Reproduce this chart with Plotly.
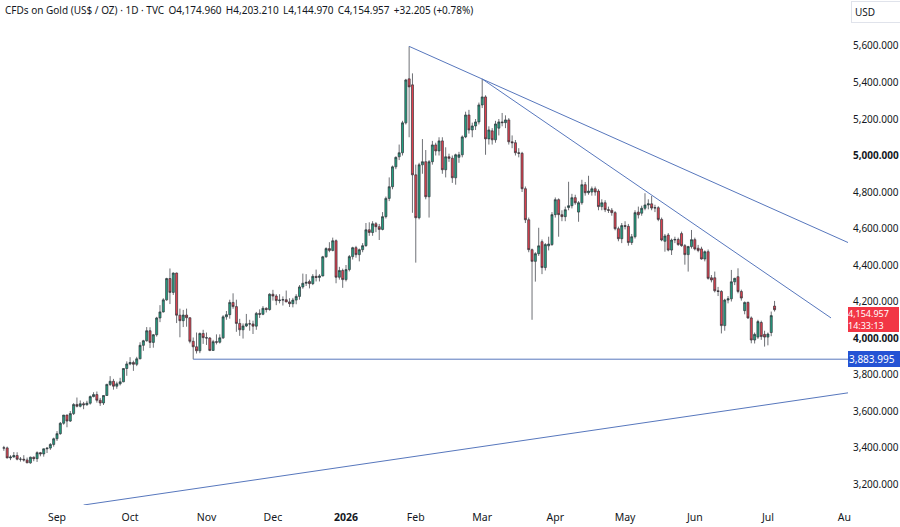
import numpy as np
import pandas as pd
import plotly.graph_objects as go

# ---------------- data ----------------
HOLIDAYS = ["2025-12-25", "2026-01-01", "2026-04-03"]
FIRST_DAY = "2025-08-08"
LAST_DAY = "2026-07-03"

# (open, high, low, close) per trading day, month by month
AUG_2025 = [
    (3397, 3409, 3382, 3398), (3398, 3405, 3341, 3343), (3343, 3358, 3331, 3348),
    (3348, 3375, 3345, 3356), (3356, 3374, 3330, 3336), (3336, 3348, 3323, 3336),
    (3336, 3358, 3323, 3332), (3332, 3345, 3315, 3316), (3316, 3350, 3311, 3347),
    (3347, 3351, 3325, 3339), (3339, 3379, 3321, 3372), (3372, 3376, 3352, 3365),
    (3365, 3394, 3350, 3393), (3393, 3398, 3370, 3397), (3397, 3424, 3387, 3417),
    (3417, 3454, 3405, 3448),
]
SEP_2025 = [
    (3448, 3490, 3436, 3476), (3476, 3540, 3470, 3533), (3533, 3578, 3525, 3578),
    (3578, 3580, 3511, 3545), (3545, 3600, 3540, 3586), (3586, 3643, 3578, 3636),
    (3636, 3674, 3620, 3626), (3626, 3658, 3620, 3640), (3640, 3650, 3610, 3634),
    (3634, 3656, 3630, 3643), (3643, 3685, 3635, 3679), (3679, 3703, 3675, 3690),
    (3690, 3707, 3646, 3659), (3659, 3672, 3628, 3644), (3644, 3687, 3633, 3685),
    (3685, 3749, 3684, 3746), (3746, 3791, 3737, 3763), (3763, 3776, 3717, 3736),
    (3736, 3761, 3722, 3749), (3749, 3782, 3740, 3760), (3760, 3835, 3758, 3833),
    (3833, 3872, 3793, 3858),
]
OCT_2025 = [
    (3858, 3895, 3851, 3866), (3866, 3876, 3820, 3856), (3856, 3897, 3846, 3886),
    (3886, 3977, 3884, 3960), (3960, 3990, 3930, 3985), (3985, 4060, 3980, 4040),
    (4040, 4059, 3945, 3976), (3976, 4022, 3947, 4018), (4018, 4116, 4008, 4110),
    (4110, 4180, 4087, 4143), (4143, 4218, 4140, 4209), (4209, 4330, 4204, 4326),
    (4326, 4381, 4186, 4250), (4250, 4359, 4236, 4356), (4356, 4358, 4082, 4125),
    (4125, 4161, 4004, 4095), (4095, 4154, 4060, 4126), (4126, 4161, 4062, 4111),
    (4111, 4113, 3971, 3982), (3982, 4003, 3883.995, 3952), (3952, 4030, 3915, 3930),
    (3930, 4030, 3917, 4025), (4025, 4045, 3968, 4002),
]
NOV_2025 = [
    (4002, 4030, 3962, 4000), (4000, 4005, 3928, 3932), (3932, 3990, 3930, 3980),
    (3980, 4020, 3965, 3977), (3977, 4020, 3970, 4001), (4001, 4125, 3995, 4116),
    (4116, 4148, 4100, 4128), (4128, 4210, 4106, 4195), (4195, 4245, 4160, 4172),
    (4172, 4210, 4034, 4080), (4080, 4105, 4012, 4045), (4045, 4080, 3997, 4066),
    (4066, 4132, 4060, 4078), (4078, 4100, 4040, 4077), (4077, 4095, 4022, 4065),
    (4065, 4143, 4045, 4135), (4135, 4157, 4110, 4130), (4130, 4175, 4125, 4163),
    (4163, 4168, 4140, 4156), (4156, 4245, 4150, 4240),
]
DEC_2025 = [
    (4240, 4264, 4205, 4230), (4230, 4240, 4180, 4205), (4205, 4240, 4190, 4208),
    (4208, 4228, 4178, 4210), (4210, 4260, 4196, 4198), (4198, 4218, 4170, 4188),
    (4188, 4220, 4168, 4208), (4208, 4240, 4185, 4228), (4228, 4290, 4210, 4280),
    (4280, 4353, 4270, 4300), (4300, 4350, 4285, 4305), (4310, 4320, 4272, 4298),
    (4298, 4350, 4290, 4338), (4338, 4375, 4310, 4332), (4332, 4350, 4310, 4340),
    (4340, 4450, 4338, 4445), (4445, 4497, 4440, 4490), (4490, 4525, 4470, 4480),
    (4480, 4550, 4475, 4533), (4533, 4540, 4300, 4333), (4333, 4390, 4320, 4370),
    (4370, 4380, 4275, 4320),
]
JAN_2026 = [
    (4320, 4400, 4310, 4375), (4375, 4455, 4365, 4446), (4446, 4500, 4430, 4495),
    (4495, 4505, 4440, 4457), (4457, 4490, 4420, 4484), (4484, 4520, 4470, 4506),
    (4506, 4630, 4500, 4593), (4593, 4634, 4560, 4578), (4578, 4640, 4560, 4626),
    (4626, 4635, 4580, 4610), (4610, 4625, 4537, 4595), (4595, 4690, 4590, 4665),
    (4665, 4775, 4655, 4765), (4765, 4880, 4750, 4829), (4829, 4945, 4815, 4938),
    (4938, 4995, 4925, 4990), (4993, 5060, 4975, 5015), (5015, 5190, 5000, 5179),
    (5179, 5420, 5170, 5414), (5420, 5598, 5100, 5376), (5387, 5450, 4686, 4894),
]
FEB_2026 = [
    (4894, 4950, 4413, 4659), (4659, 4960, 4650, 4949), (4949, 5090, 4900, 4966),
    (4966, 5030, 4760, 4774), (4774, 4975, 4660, 4966), (4966, 5080, 4950, 5058),
    (5058, 5070, 5000, 5025), (5025, 5100, 5000, 5080), (5080, 5100, 4900, 4922),
    (4922, 5045, 4880, 4993), (4993, 5010, 4965, 4985), (4985, 5000, 4850, 4878),
    (4878, 5010, 4840, 5004), (4990, 5020, 4960, 5004), (5004, 5110, 4990, 5102),
    (5102, 5240, 5095, 5222), (5222, 5250, 5120, 5140), (5140, 5180, 5100, 5162),
    (5162, 5200, 5140, 5184), (5184, 5290, 5170, 5277),
]
MAR_2026 = [
    (5277, 5419, 5260, 5321), (5321, 5330, 5004, 5091), (5091, 5160, 5060, 5140),
    (5135, 5150, 5060, 5086), (5086, 5190, 5070, 5173), (5150, 5200, 5110, 5184),
    (5184, 5233, 5160, 5180), (5180, 5220, 5150, 5195), (5195, 5205, 5060, 5075),
    (5075, 5110, 5040, 5070), (5070, 5085, 5000, 5015), (5015, 5040, 4990, 5012),
    (5012, 5020, 4800, 4818), (4818, 4830, 4630, 4648), (4648, 4660, 4470, 4484),
    (4484, 4490, 4100, 4420), (4420, 4470, 4309, 4462), (4462, 4604, 4450, 4505),
    (4528, 4540, 4350, 4386), (4386, 4520, 4370, 4512), (4505, 4555, 4480, 4515),
    (4512, 4690, 4505, 4676),
]
APR_2026 = [
    (4676, 4770, 4660, 4758), (4758, 4765, 4555, 4676), (4676, 4700, 4640, 4665),
    (4665, 4720, 4640, 4703), (4715, 4856, 4700, 4725), (4725, 4790, 4710, 4769),
    (4769, 4785, 4730, 4741), (4690, 4750, 4637, 4741), (4741, 4867, 4730, 4840),
    (4840, 4855, 4780, 4796), (4796, 4889, 4785, 4805), (4800, 4830, 4780, 4818),
    (4818, 4830, 4780, 4800), (4805, 4815, 4700, 4720), (4720, 4760, 4700, 4741),
    (4741, 4755, 4690, 4703), (4703, 4720, 4685, 4700), (4700, 4712, 4670, 4687),
    (4687, 4695, 4590, 4599), (4599, 4610, 4530, 4544), (4544, 4630, 4520, 4616),
]
MAY_2026 = [
    (4616, 4640, 4595, 4612), (4612, 4625, 4506, 4523), (4523, 4570, 4510, 4555),
    (4555, 4700, 4545, 4687), (4690, 4720, 4655, 4675), (4684, 4725, 4670, 4711),
    (4711, 4793, 4700, 4729), (4729, 4760, 4705, 4735), (4735, 4778, 4700, 4712),
    (4712, 4730, 4690, 4714), (4714, 4722, 4640, 4650), (4650, 4660, 4530, 4537),
    (4530, 4570, 4473, 4559), (4564, 4575, 4475, 4482), (4482, 4545, 4455, 4537),
    (4537, 4555, 4520, 4540), (4540, 4550, 4505, 4512), (4572, 4583, 4500, 4506),
    (4506, 4515, 4402, 4457), (4457, 4505, 4364, 4501), (4501, 4592, 4490, 4539),
]
JUN_2026 = [
    (4539, 4550, 4480, 4488), (4492, 4510, 4470, 4480), (4488, 4500, 4430, 4433),
    (4433, 4480, 4420, 4473), (4473, 4485, 4320, 4327), (4330, 4345, 4305, 4318),
    (4330, 4364, 4250, 4259), (4259, 4280, 4230, 4255), (4255, 4262, 4025, 4068),
    (4068, 4215, 4040, 4208), (4208, 4230, 4190, 4215), (4215, 4373, 4200, 4308),
    (4308, 4330, 4290, 4327), (4336, 4382, 4245, 4255), (4255, 4265, 4205, 4219),
    (4150, 4200, 4130, 4195), (4195, 4200, 4105, 4110), (4110, 4118, 3971, 3989),
    (3989, 4030, 3970, 4020), (4005, 4100, 3995, 4090), (4085, 4095, 3990, 4008),
    (4020, 4040, 3953, 4005),
]
JUL_2026 = [
    (4005, 4030, 3960, 4022), (4030, 4145, 4010, 4122.752),
    (4174.960, 4203.210, 4144.970, 4154.957),
]

MONTH_TICKS = ["2025-09-01", "2025-10-01", "2025-11-03", "2025-12-01", "2026-01-02",
               "2026-02-02", "2026-03-02", "2026-04-01", "2026-05-01", "2026-06-01",
               "2026-07-01", "2026-08-03"]
MONTH_LABELS = ["Sep", "Oct", "Nov", "Dec", "<b>2026</b>", "Feb", "Mar", "Apr", "May",
                "Jun", "Jul", "Au"]
PRICE_TICKS = [3200, 3400, 3600, 3800, 4000, 4200, 4400, 4600, 4800, 5000, 5200, 5400, 5600]
BOLD_TICKS = [4000, 5000]

SUPPORT_LEVEL = 3883.995
SUPPORT_START = "2025-10-28"
LAST_PRICE = 4154.957
COUNTDOWN = "14:33:13"
GAP = " \u2009"
LEGEND = ("CFDs on Gold (US$ / OZ) · 1D · TVC" + GAP + "O4,174.960" + GAP + "H4,203.210"
          + GAP + "L4,144.970" + GAP + "C4,154.957" + GAP + "+32.205 (+0.78%)")

# drawing anchors
PEAK_DAY, MARCH_TOP_DAY = "2026-01-29", "2026-03-02"
STEEP_LINE_END = ("2026-07-28", 4110.0)
RISING_LINE = [("2025-09-11", 3085.0), ("2026-08-05", 3702.0)]
RIGHT_EDGE_DAY = "2026-08-05"

X_RANGE = ["2025-08-07 08:10", "2026-08-04 14:38"]
Y_RANGE = [3085.1, 5852.0]

# ---------------- build ----------------
rows = (AUG_2025 + SEP_2025 + OCT_2025 + NOV_2025 + DEC_2025 + JAN_2026 + FEB_2026
        + MAR_2026 + APR_2026 + MAY_2026 + JUN_2026 + JUL_2026)
days = pd.bdate_range(FIRST_DAY, LAST_DAY, freq="C", holidays=HOLIDAYS)
assert len(days) == len(rows), (len(days), len(rows))
ohlc = pd.DataFrame(rows, columns=["open", "high", "low", "close"], index=days)
xs = days + pd.Timedelta(hours=12)

def noon(d):
    return pd.Timestamp(d) + pd.Timedelta(hours=12)

def bar_index(d):
    return int(np.busday_count(FIRST_DAY, d, holidays=HOLIDAYS))

TXT = "#131722"
LINE = "#5777bd"
FONT = "Noto Sans"

fig = go.Figure()
fig.add_trace(go.Candlestick(
    x=xs, open=ohlc["open"], high=ohlc["high"], low=ohlc["low"], close=ohlc["close"],
    increasing=dict(fillcolor="#22a080", line=dict(color="#30343b", width=0.7)),
    decreasing=dict(fillcolor="#e3414f", line=dict(color="#30343b", width=0.7)),
    whiskerwidth=0, hoverinfo="skip", showlegend=False,
))

# upper trendline: through Jan peak high and March high, extended to the right edge
p1 = ohlc.loc[PEAK_DAY, "high"]
p2 = ohlc.loc[MARCH_TOP_DAY, "high"]
slope = (p2 - p1) / (bar_index(MARCH_TOP_DAY) - bar_index(PEAK_DAY))
p_end = p1 + slope * (bar_index(RIGHT_EDGE_DAY) - bar_index(PEAK_DAY))
shapes = [
    dict(type="line", xref="x", yref="y", x0=noon(PEAK_DAY), y0=p1,
         x1=noon(RIGHT_EDGE_DAY), y1=p_end, line=dict(color=LINE, width=1)),
    dict(type="line", xref="x", yref="y", x0=noon(MARCH_TOP_DAY), y0=p2,
         x1=noon(STEEP_LINE_END[0]), y1=STEEP_LINE_END[1], line=dict(color=LINE, width=1)),
    dict(type="line", xref="x", yref="y", x0=noon(RISING_LINE[0][0]), y0=RISING_LINE[0][1],
         x1=noon(RISING_LINE[1][0]), y1=RISING_LINE[1][1], line=dict(color=LINE, width=1)),
    dict(type="line", xref="x", yref="y", x0=noon(SUPPORT_START), y0=SUPPORT_LEVEL,
         x1=noon(RIGHT_EDGE_DAY), y1=SUPPORT_LEVEL, line=dict(color=LINE, width=1)),
]

ticktext = [("<b>%s</b>" if v in BOLD_TICKS else "%s") % f"{v:,.3f}" for v in PRICE_TICKS]

annotations = [
    dict(xref="paper", yref="paper", x=0.004, y=1, xanchor="left", yanchor="top",
         yshift=-1, text=LEGEND, showarrow=False, font=dict(family=FONT, size=10, color=TXT)),
    dict(xref="paper", yref="paper", x=1, y=1, xanchor="left", yanchor="top",
         xshift=3, yshift=-1, text="USD", showarrow=False, width=42, align="left",
         bordercolor="#e0e3eb", borderwidth=1, borderpad=3,
         font=dict(family=FONT, size=10, color=TXT)),
    dict(xref="paper", yref="y", x=1, y=LAST_PRICE, xanchor="left", yanchor="middle",
         yshift=-10, text=f"{LAST_PRICE:,.3f}<br>{COUNTDOWN}", showarrow=False, width=51,
         align="left", bgcolor="#f23645", borderpad=0, borderwidth=0,
         font=dict(family=FONT, size=9.0, color="white")),
    dict(xref="paper", yref="y", x=1, y=SUPPORT_LEVEL, xanchor="left", yanchor="middle",
         text=f"{SUPPORT_LEVEL:,.3f}", showarrow=False, width=51, align="left",
         bgcolor="#2453d4", borderpad=1, borderwidth=0,
         font=dict(family=FONT, size=10, color="white")),
]

fig.update_layout(
    width=900, height=527, margin=dict(l=0, r=52, t=0, b=22),
    paper_bgcolor="white", plot_bgcolor="white", showlegend=False, hovermode=False,
    font=dict(family=FONT, size=10, color=TXT), boxgap=0.12,
    shapes=shapes, annotations=annotations,
    xaxis=dict(
        type="date", range=X_RANGE, rangeslider=dict(visible=False),
        rangebreaks=[dict(bounds=["sat", "mon"]), dict(values=HOLIDAYS)],
        tickvals=[noon(d) for d in MONTH_TICKS], ticktext=MONTH_LABELS,
        showgrid=False, zeroline=False, showline=False, ticks="",
        tickfont=dict(family=FONT, size=10.5, color=TXT), ticklabelstandoff=4,
    ),
    yaxis=dict(
        side="right", range=Y_RANGE, tickvals=PRICE_TICKS, ticktext=ticktext,
        showgrid=False, zeroline=False, showline=False, ticks="",
        tickfont=dict(family=FONT, size=10, color=TXT), ticklabelstandoff=4,
    ),
)

fig.write_html("out.html")
